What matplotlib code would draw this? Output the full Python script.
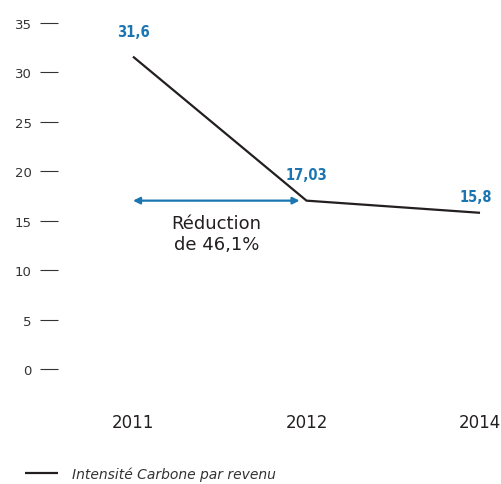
import matplotlib
matplotlib.use("Agg")
import matplotlib.pyplot as plt

years = ["2011", "2012", "2014"]
intensity = [31.6, 17.03, 15.8]
value_labels = ["31,6", "17,03", "15,8"]
y_ticks = [0, 5, 10, 15, 20, 25, 30, 35]
series_name = "Intensité Carbone par revenu"
note_text = "Réduction\nde 46,1%"

dark = "#231f20"
blue = "#1a75b0"

fig = plt.figure(figsize=(5.02, 4.85), dpi=100)
ax = fig.add_axes([58 / 502, 115 / 485, 444 / 502, 346 / 485])

x = list(range(len(years)))
line, = ax.plot(x, intensity, color=dark, lw=1.6, solid_capstyle="butt", clip_on=False)

# value labels above each point (offsets in points)
offsets = [(0, 18), (0, 19), (-3, 12)]
for xi, yi, lab, off in zip(x, intensity, value_labels, offsets):
    ax.annotate(lab, (xi, yi), xytext=off, textcoords="offset points",
                ha="center", va="center", color=blue, fontsize=10.5,
                fontweight="bold", fontstretch="condensed", annotation_clip=False)

# double arrow showing the reduction between 2011 and 2012
ax.annotate("", xy=(0.0, intensity[1]), xytext=(0.96, intensity[1]),
            arrowprops=dict(arrowstyle="<|-|>", color=blue, lw=1.6,
                            mutation_scale=10, shrinkA=0, shrinkB=0))
ax.text(0.48, intensity[1] - 3.3, note_text, ha="center", va="center",
        fontsize=13, color=dark, linespacing=1.2)

ax.set_xlim(-75 / 173.5, 2 + 22 / 173.5)
ax.set_ylim(0, 35)
ax.set_xticks(x)
ax.set_xticklabels(years, fontsize=12, color=dark)
ax.set_yticks(y_ticks)
ax.set_yticklabels([str(t) for t in y_ticks], fontsize=9.5, color="#333333")

ax.tick_params(axis="x", length=0, pad=32)
ax.tick_params(axis="y", direction="out", length=13, width=0.8,
               color="#333333", pad=6)
for side in ["top", "right", "bottom", "left"]:
    ax.spines[side].set_visible(False)

fig.legend([line], [series_name], loc="center left",
           bbox_to_anchor=(12 / 502, 10 / 485), frameon=False,
           handlelength=2.4, handletextpad=1.0,
           prop={"style": "italic", "size": 10}, labelcolor="#333333")

fig.savefig("out.png", dpi=100)
